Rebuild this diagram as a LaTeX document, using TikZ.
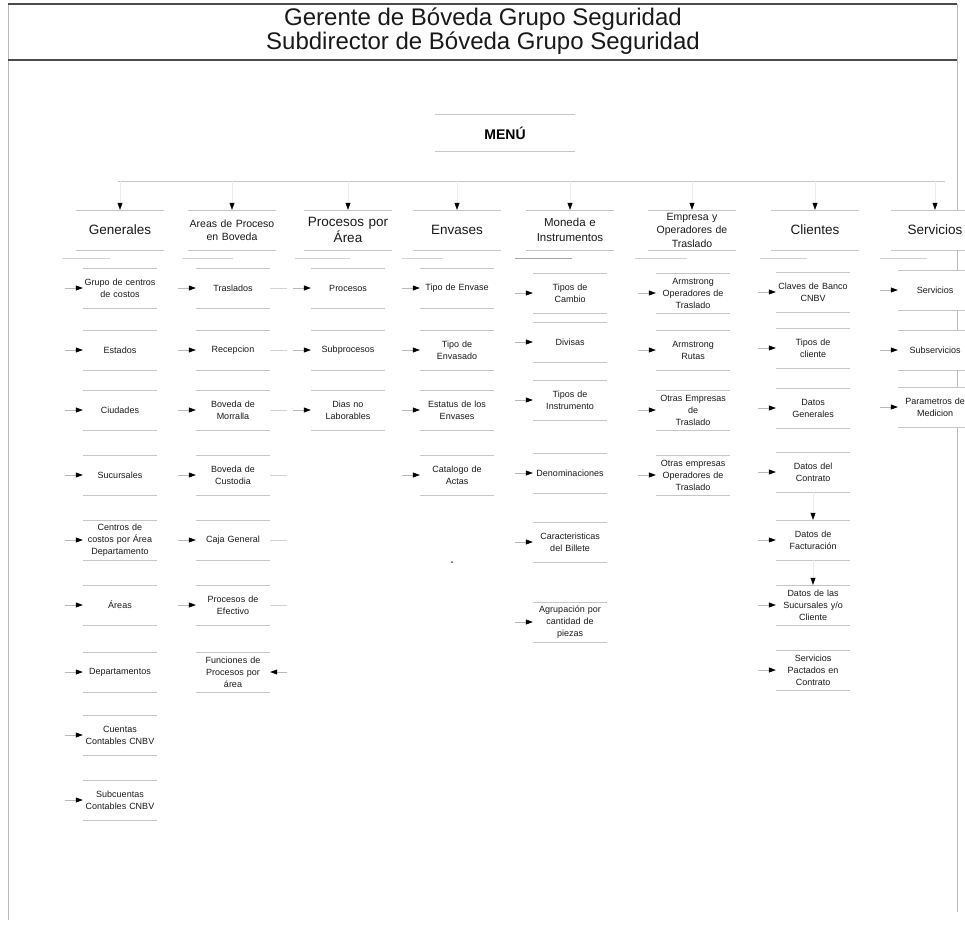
\documentclass[tikz,border=0pt]{standalone}
\usepackage{fontspec}
\setmainfont{Liberation Sans}
\usetikzlibrary{arrows.meta}
\begin{document}
\begin{tikzpicture}[x=1pt,y=-1pt,
  frame/.style={draw=gray!55,line width=0.6pt},
  heavy/.style={draw=black!70,line width=1.2pt},
  rule/.style={draw=gray!45,line width=0.6pt},
  faint/.style={draw=gray!35,line width=0.6pt},
  conn/.style={draw=gray!55,line width=0.6pt,-{Triangle[length=7pt,width=5pt,color=black]}},
  drop/.style={draw=gray!15,line width=0.5pt,-{Triangle[length=7pt,width=5pt,color=black]}},
  back/.style={draw=gray!55,line width=0.6pt,-{Triangle[length=7pt,width=5pt,color=black]}},
  item/.style={text width=72pt,inner sep=1pt,minimum height=40pt,align=center,
    font=\fontsize{9}{12}\selectfont,text=black!90},
  head/.style={text width=86pt,inner sep=1pt,minimum height=40pt,align=center,text=black!90},
  hbig/.style={head,font=\fontsize{13.5}{16}\selectfont},
  hmid/.style={head,font=\fontsize{11.5}{15}\selectfont},
  hsml/.style={head,font=\fontsize{10.5}{13.5}\selectfont},
  wipe/.style={fill=white}]
\useasboundingbox (0,0) rectangle (965,924);

% outer frame and title band
\draw[frame] (8,920) -- (8,4) -- (957,4) -- (957,912);
\draw[heavy] (8,4) -- (957,4);
\draw[heavy] (8,60) -- (957,60);
\node[font=\fontsize{24}{22}\selectfont,align=center,text=black!90] (title) at (483,31)
  {Gerente de Bóveda Grupo Seguridad\\Subdirector de Bóveda Grupo Seguridad};

% menu
\node[font=\bfseries\fontsize{14}{16}\selectfont,minimum width=140pt,minimum height=37pt,inner sep=0pt] (menu) at (505,133) {MENÚ};
\draw[rule] (menu.north west) -- (menu.north east) (menu.south west) -- (menu.south east);

% spine feeding the column headers
\coordinate (sp-l) at (118,181);
\coordinate (sp-r) at (945,181);
\draw[rule] (sp-l) -- (sp-r);

% column headers
\node[hbig] (h1) at (120,230) {Generales};
\node[hsml] (h2) at (232,230) {Areas de Proceso\\en Boveda};
\node[hbig] (h3) at (348,230) {Procesos por\\Área};
\node[hbig] (h4) at (457,230) {Envases};
\node[hmid] (h5) at (570,230) {Moneda e\\Instrumentos};
\node[hsml] (h6) at (692,230) {Empresa y\\Operadores de\\Traslado};
\node[hbig] (h7) at (815,230) {Clientes};
\node[hbig,wipe] (h8) at (935,230) {Servicios};

\foreach \n/\x in {h1/120,h2/232,h3/348,h4/457,h5/570,h6/692,h7/815,h8/935}{
  \coordinate (\n-in) at (\x,181);
  \draw[drop] (\n-in) -- (\n.north);
  \draw[rule] (\n.north west) -- (\n.north east) (\n.south west) -- (\n.south east);
}

% short stubs under the headers
\foreach \a/\b in {62/110,182/233,295/350,402/443,635/687,760/807,880/927}
  \draw[faint] (\a,258) -- (\b,258);
\draw[draw=gray!70,line width=0.7pt] (515,258) -- (572,258);

% Generales
\node[item] (g1) at (120,288) {Grupo de centros\\de costos};
\node[item] (g2) at (120,350) {Estados};
\node[item] (g3) at (120,410) {Ciudades};
\node[item] (g4) at (120,475) {Sucursales};
\node[item] (g5) at (120,540) {Centros de\\costos por Área\\Departamento};
\node[item] (g6) at (120,605) {Áreas};
\node[item] (g7) at (120,672) {Departamentos};
\node[item] (g8) at (120,735) {Cuentas\\Contables CNBV};
\node[item] (g9) at (120,800) {Subcuentas\\Contables CNBV};

% Areas de proceso en boveda
\node[item] (a1) at (233,288) {Traslados};
\node[item] (a2) at (233,350) {Recepcion};
\node[item] (a3) at (233,410) {Boveda de\\Morralla};
\node[item] (a4) at (233,475) {Boveda de\\Custodia};
\node[item] (a5) at (233,540) {Caja General};
\node[item] (a6) at (233,605) {Procesos de\\Efectivo};
\node[item] (a7) at (233,672) {Funciones de\\Procesos por\\área};

% Procesos por area
\node[item] (p1) at (348,288) {Procesos};
\node[item] (p2) at (348,350) {Subprocesos};
\node[item] (p3) at (348,410) {Dias no\\Laborables};

% Envases
\node[item] (e1) at (457,288) {Tipo de Envase};
\node[item] (e2) at (457,350) {Tipo de\\Envasado};
\node[item] (e3) at (457,410) {Estatus de los\\Envases};
\node[item] (e4) at (457,475) {Catalogo de\\Actas};

% Moneda e instrumentos
\node[item] (m1) at (570,293) {Tipos de\\Cambio};
\node[item] (m2) at (570,342) {Divisas};
\node[item] (m3) at (570,400) {Tipos de\\Instrumento};
\node[item] (m4) at (570,473) {Denominaciones};
\node[item] (m5) at (570,542) {Caracteristicas\\del Billete};
\node[item] (m6) at (570,622) {Agrupación por\\cantidad de\\piezas};

% Empresa y operadores de traslado
\node[item] (o1) at (693,293) {Armstrong\\Operadores de\\Traslado};
\node[item] (o2) at (693,350) {Armstrong\\Rutas};
\node[item] (o3) at (693,410) {Otras Empresas\\de\\Traslado};
\node[item] (o4) at (693,475) {Otras empresas\\Operadores de\\Traslado};

% Clientes
\node[item] (c1) at (813,292) {Claves de Banco\\CNBV};
\node[item] (c2) at (813,348) {Tipos de\\cliente};
\node[item] (c3) at (813,408) {Datos\\Generales};
\node[item] (c4) at (813,472) {Datos del\\Contrato};
\node[item] (c5) at (813,540) {Datos de\\Facturación};
\node[item] (c6) at (813,605) {Datos de las\\Sucursales y/o\\Cliente};
\node[item] (c7) at (813,670) {Servicios\\Pactados en\\Contrato};

% Servicios
\node[item,wipe] (s1) at (935,290) {Servicios};
\node[item,wipe] (s2) at (935,350) {Subservicios};
\node[item,wipe] (s3) at (935,407) {Parametros de\\Medicion};

% item box rules and incoming arrows
\foreach \n in {g1,g2,g3,g4,g5,g6,g7,g8,g9,a1,a2,a3,a4,a5,a6,a7,p1,p2,p3,
                e1,e2,e3,e4,m1,m2,m3,m4,m5,m6,o1,o2,o3,o4,c1,c2,c3,c4,c5,c6,c7,s1,s2,s3}{
  \draw[rule] (\n.north west) -- (\n.north east) (\n.south west) -- (\n.south east);
}
\foreach \n in {g1,g2,g3,g4,g5,g6,g7,g8,g9,a1,a2,a3,a4,a5,a6,p1,p2,p3,
                e1,e2,e3,e4,m1,m2,m3,m4,m5,m6,o1,o2,o3,o4,c1,c2,c3,c4,c5,c6,c7,s1,s2,s3}{
  \coordinate (\n-in) at ([xshift=-18pt]\n.west);
  \draw[conn] (\n-in) -- (\n.west);
}

% right-hand stubs of the Areas column
\foreach \n in {a1,a2,a3,a4,a5,a6,a7}
  \coordinate (\n-out) at ([xshift=17pt]\n.east);
\foreach \n in {a1,a2,a3,a4,a5,a6}
  \draw[faint] (\n.east) -- (\n-out);
\draw[back] (a7-out) -- (a7.east);

% chained client records
\draw[drop] (c4.south) -- (c5.north);
\draw[drop] (c5.south) -- (c6.north);

% speck
\fill[black!70] (452,562) circle (1pt);
\end{tikzpicture}
\end{document}
